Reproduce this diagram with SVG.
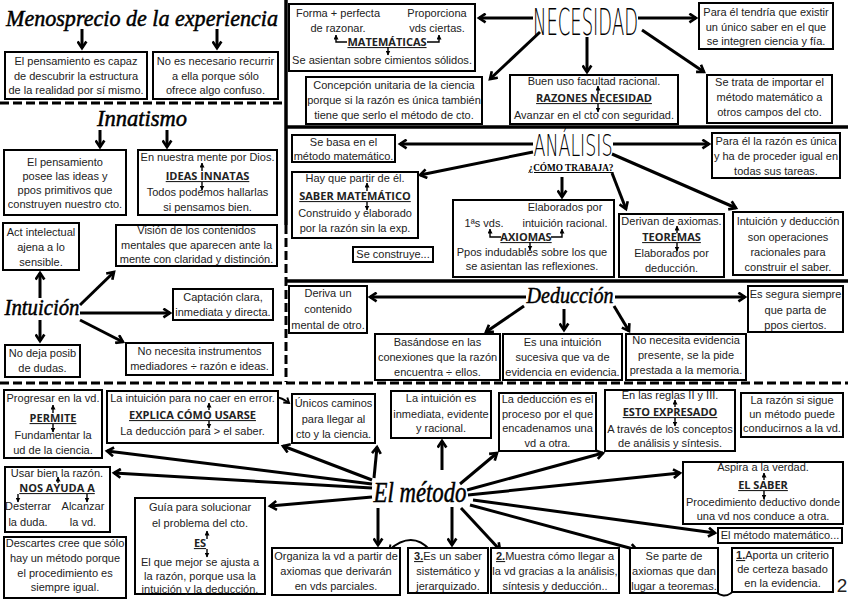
<svg xmlns="http://www.w3.org/2000/svg" width="848" height="600" viewBox="0 0 848 600">
<defs>
<marker id="a" viewBox="0 0 10 10" refX="7.5" refY="5" markerWidth="11" markerHeight="11" markerUnits="userSpaceOnUse" orient="auto"><path d="M1.5,1 L7.5,5 L1.5,9" fill="none" stroke="#000" stroke-width="2.4" stroke-linejoin="miter"/></marker>
<marker id="m" viewBox="0 0 10 10" refX="7.5" refY="5" markerWidth="8" markerHeight="8" markerUnits="userSpaceOnUse" orient="auto"><path d="M1.5,1 L7.5,5 L1.5,9" fill="none" stroke="#000" stroke-width="2.4"/></marker>
<marker id="s" viewBox="0 0 10 10" refX="9" refY="5" markerWidth="5" markerHeight="5" markerUnits="userSpaceOnUse" orient="auto"><path d="M0,0 L10,5 L0,10 z" fill="#000"/></marker>
<style>
.b{fill:#fff;stroke:#000;stroke-width:2}
.t{font-family:"Liberation Sans",Arial,sans-serif;font-size:11px;fill:#222;text-anchor:middle}
.h{font-family:"Open Sans","Liberation Sans",sans-serif;font-weight:bold;font-size:11px;fill:#222;text-anchor:middle;text-decoration:underline}
.sc{font-family:"Liberation Serif",serif;font-style:italic;fill:#000;text-anchor:middle;stroke:#000;stroke-width:0.5}
.th{font-family:"DejaVu Sans","Liberation Sans",sans-serif;font-weight:200;fill:#000;text-anchor:middle}
.c{fill:none;stroke:#000;stroke-width:3;marker-end:url(#a)}
.cc{fill:none;stroke:#000;stroke-width:2;marker-end:url(#m)}
.sm{fill:none;stroke:#000;stroke-width:1.4;marker-end:url(#s)}
.sep{fill:none;stroke:#000;stroke-width:3.5}
.dash{fill:none;stroke:#000;stroke-width:3;stroke-dasharray:9 4}
</style>
</defs>
<rect width="848" height="600" fill="#fff"/>

<g id="separators">
<line class="dash" x1="0" y1="103" x2="285" y2="103"/>
<line class="sep" x1="286" y1="0" x2="286" y2="225"/>
<line class="dash" x1="286" y1="225" x2="286" y2="382"/>
<line class="sep" x1="285" y1="127" x2="848" y2="127"/>
<line class="sep" x1="285" y1="281" x2="848" y2="281"/>
<line class="dash" x1="0" y1="383" x2="848" y2="383"/>
</g>

<g id="connectors">
<line class="c" x1="82" y1="29" x2="82" y2="48"/>
<line class="c" x1="217" y1="29" x2="217" y2="48"/>
<line class="c" x1="533" y1="18" x2="479" y2="18"/>
<line class="c" x1="638" y1="18" x2="696" y2="18"/>
<line class="c" x1="540" y1="32" x2="490" y2="79"/>
<line class="c" x1="587" y1="37" x2="587" y2="72"/>
<line class="c" x1="642" y1="30" x2="704" y2="72"/>
<line class="c" x1="100" y1="130" x2="100" y2="147"/>
<line class="c" x1="167" y1="130" x2="167" y2="147"/>
<line class="c" x1="40" y1="298" x2="40" y2="273"/>
<line class="c" x1="40" y1="320" x2="40" y2="341"/>
<line class="c" x1="80" y1="305" x2="114" y2="272"/>
<line class="c" x1="80" y1="313" x2="170" y2="313"/>
<line class="c" x1="80" y1="320" x2="123" y2="342"/>
<line class="c" x1="533" y1="144" x2="400" y2="144"/>
<line class="c" x1="533" y1="152" x2="420" y2="175"/>
<line class="c" x1="562" y1="177" x2="562" y2="197"/>
<line class="c" x1="613" y1="144" x2="709" y2="144"/>
<line class="c" x1="612" y1="154" x2="736" y2="208"/>
<line class="c" x1="612" y1="173" x2="626" y2="209"/>
<line class="c" x1="526" y1="297" x2="370" y2="297"/>
<line class="c" x1="615" y1="297" x2="745" y2="297"/>
<line class="c" x1="524" y1="306" x2="486" y2="332"/>
<line class="c" x1="564" y1="309" x2="564" y2="330"/>
<line class="c" x1="614" y1="306" x2="629" y2="331"/>
<line class="c" x1="442" y1="470" x2="442" y2="441"/>
<line class="c" x1="460" y1="484" x2="497" y2="453"/>
<line class="c" x1="467" y1="490" x2="603" y2="453"/>
<line class="c" x1="468" y1="495" x2="680" y2="473"/>
<line class="c" x1="374" y1="478" x2="377" y2="447"/>
<line class="c" x1="372" y1="480" x2="283" y2="446"/>
<line class="c" x1="372" y1="484" x2="107" y2="451"/>
<line class="c" x1="372" y1="488" x2="114" y2="473"/>
<line class="c" x1="372" y1="497" x2="270" y2="506"/>
<line class="c" x1="378" y1="508" x2="378" y2="545"/>
<line class="c" x1="452" y1="507" x2="452" y2="545"/>
<line class="c" x1="461" y1="508" x2="500" y2="550"/>
<line class="c" x1="470" y1="505" x2="637" y2="550"/>
<line class="c" x1="473" y1="500" x2="715" y2="533"/>
<path class="cc" d="M262,406 Q273,390 289,403"/>
<path class="cc" d="M430,550 Q412,530 389,550"/>
<path class="cc" d="M736,588 Q724,604 710,586"/>
</g>

<g id="menosprecio">
<text class="sc" x="142" y="26" font-size="23" textLength="272" lengthAdjust="spacingAndGlyphs">Menosprecio de la experiencia</text>
</g>
<g id="n-pensamiento-capaz">
<rect class="b" x="5" y="52" width="142" height="47"/>
<text class="t" x="76" y="65">El pensamiento es capaz</text>
<text class="t" x="76" y="80">de descubrir la estructura</text>
<text class="t" x="76" y="94">de la realidad por sí mismo.</text>
</g>
<g id="n-no-necesario">
<rect class="b" x="153" y="52" width="125" height="47"/>
<text class="t" x="215.5" y="65">No es necesario recurrir</text>
<text class="t" x="215.5" y="80">a ella porque sólo</text>
<text class="t" x="215.5" y="94">ofrece algo confuso.</text>
</g>

<g id="necesidad">
<text class="th" transform="translate(585.5,34.5) scale(0.5,1)" x="0" y="0" font-size="37" textLength="210" lengthAdjust="spacingAndGlyphs">NECESIDAD</text>
</g>
<g id="n-matematicas">
<rect class="b" x="289" y="4" width="186" height="67"/>
<text class="t" x="338" y="17">Forma + perfecta</text>
<text class="t" x="437" y="17">Proporciona</text>
<text class="t" x="338" y="32">de razonar.</text>
<text class="t" x="437" y="32">vds ciertas.</text>
<text class="h" x="387" y="46">MATEMÁTICAS</text>
<text class="t" x="382" y="64" textLength="180" lengthAdjust="spacingAndGlyphs">Se asientan sobre cimientos sólidos.</text>
<path class="sm" d="M347,42 H336 V35"/>
<path class="sm" d="M427,42 H439 V35"/>
<path class="sm" d="M388,47 V55"/>
</g>
<g id="n-concepcion">
<rect class="b" x="306" y="77" width="176" height="47"/>
<text class="t" x="394" y="89">Concepción unitaria de la ciencia</text>
<text class="t" x="394" y="104">porque si la razón es única también</text>
<text class="t" x="394" y="119">tiene que serlo el método de cto.</text>
</g>
<g id="n-razones">
<rect class="b" x="510" y="75" width="168" height="49"/>
<text class="t" x="594" y="85">Buen uso facultad racional.</text>
<text class="h" x="594" y="102">RAZONES NECESIDAD</text>
<text class="t" x="594" y="119">Avanzar en el cto con seguridad.</text>
<path class="sm" d="M598,94 V86"/>
<path class="sm" d="M598,104 V112"/>
</g>
<g id="n-unico-saber">
<rect class="b" x="699" y="3" width="134" height="46"/>
<text class="t" x="766" y="16">Para él tendría que existir</text>
<text class="t" x="766" y="31">un único saber en el que</text>
<text class="t" x="766" y="45">se integren ciencia y fía.</text>
</g>
<g id="n-importar">
<rect class="b" x="707" y="75" width="125" height="48"/>
<text class="t" x="769.5" y="86">Se trata de importar el</text>
<text class="t" x="769.5" y="101">método matemático a</text>
<text class="t" x="769.5" y="116">otros campos del cto.</text>
</g>

<g id="innatismo">
<text class="sc" x="142" y="126" font-size="23" textLength="90" lengthAdjust="spacingAndGlyphs">Innatismo</text>
</g>
<g id="n-pensamiento-posee">
<rect class="b" x="4" y="150" width="122" height="65"/>
<text class="t" x="65" y="166">El pensamiento</text>
<text class="t" x="65" y="180">posee las ideas y</text>
<text class="t" x="65" y="194">ppos primitivos que</text>
<text class="t" x="65" y="208">construyen nuestro cto.</text>
</g>
<g id="n-ideas-innatas">
<rect class="b" x="138" y="150" width="139" height="65"/>
<text class="t" x="207.5" y="161">En nuestra mente por Dios.</text>
<text class="h" x="207.5" y="180">IDEAS INNATAS</text>
<text class="t" x="207.5" y="196">Todos podemos hallarlas</text>
<text class="t" x="207.5" y="211">si pensamos bien.</text>
<path class="sm" d="M202,171 V163"/>
<path class="sm" d="M202,182 V190"/>
</g>

<g id="intuicion">
<text class="sc" x="42" y="315" font-size="23" textLength="75" lengthAdjust="spacingAndGlyphs">Intuición</text>
</g>
<g id="n-act-intelectual">
<rect class="b" x="3" y="223" width="76" height="47"/>
<text class="t" x="41" y="236">Act intelectual</text>
<text class="t" x="41" y="251">ajena a lo</text>
<text class="t" x="41" y="266">sensible.</text>
</g>
<g id="n-vision">
<rect class="b" x="116" y="225" width="161" height="41"/>
<text class="t" x="196.5" y="234">Visión de los contenidos</text>
<text class="t" x="196.5" y="249">mentales que aparecen ante la</text>
<text class="t" x="196.5" y="263">mente con claridad y distinción.</text>
</g>
<g id="n-captacion">
<rect class="b" x="173" y="289" width="100" height="31"/>
<text class="t" x="223" y="301">Captación clara,</text>
<text class="t" x="223" y="316">inmediata y directa.</text>
</g>
<g id="n-no-deja">
<rect class="b" x="5" y="345" width="75" height="32"/>
<text class="t" x="42.5" y="357">No deja posib</text>
<text class="t" x="42.5" y="372">de dudas.</text>
</g>
<g id="n-no-necesita-instr">
<rect class="b" x="126" y="343" width="147" height="32"/>
<text class="t" x="199.5" y="355">No necesita instrumentos</text>
<text class="t" x="199.5" y="370">mediadores ÷ razón e ideas.</text>
</g>

<g id="analisis">
<text class="th" transform="translate(573,156) scale(0.56,1)" x="0" y="0" font-size="30" textLength="141" lengthAdjust="spacingAndGlyphs">ANÁLISIS</text>
<text x="571" y="171" font-family="Liberation Serif,serif" font-weight="bold" font-size="10" text-anchor="middle" text-decoration="underline" textLength="85" lengthAdjust="spacingAndGlyphs">¿CÓMO TRABAJA?</text>
</g>
<g id="n-se-basa">
<rect class="b" x="292" y="135" width="103" height="27"/>
<text class="t" x="343.5" y="146">Se basa en el</text>
<text class="t" x="343.5" y="160">método matemático.</text>
</g>
<g id="n-saber-matematico">
<rect class="b" x="292" y="172" width="126" height="66"/>
<text class="t" x="355" y="182">Hay que partir de él.</text>
<text class="h" x="355" y="200">SABER MATEMÁTICO</text>
<text class="t" x="355" y="217">Construido y elaborado</text>
<text class="t" x="355" y="232">por la razón sin la exp.</text>
<path class="sm" d="M367,191 V183"/>
<path class="sm" d="M367,202 V210"/>
</g>
<g id="n-se-construye">
<rect class="b" x="353" y="247" width="80" height="15"/>
<text class="t" x="393" y="258">Se construye...</text>
</g>
<g id="n-axiomas">
<rect class="b" x="453" y="200" width="161" height="77"/>
<text class="t" x="565" y="211">Elaborados por</text>
<text class="t" x="484" y="227">1ªs vds.</text>
<text class="t" x="565" y="227">intuición racional.</text>
<text class="h" x="526" y="241">AXIOMAS</text>
<text class="t" x="532" y="256">Ppos indudables sobre los que</text>
<text class="t" x="532" y="270">se asientan las reflexiones.</text>
<path class="sm" d="M501,237 H490 V229"/>
<path class="sm" d="M551,237 H562 V229"/>
<path class="sm" d="M530,242 V250"/>
</g>
<g id="n-razon-unica">
<rect class="b" x="712" y="133" width="128" height="45"/>
<text class="t" x="776" y="145">Para él la razón es única</text>
<text class="t" x="776" y="160">y ha de proceder igual en</text>
<text class="t" x="776" y="175">todas sus tareas.</text>
</g>
<g id="n-teoremas">
<rect class="b" x="619" y="214" width="105" height="63"/>
<text class="t" x="671.5" y="225">Derivan de axiomas.</text>
<text class="h" x="671.5" y="241">TEOREMAS</text>
<text class="t" x="671.5" y="257">Elaborados por</text>
<text class="t" x="671.5" y="272">deducción.</text>
<path class="sm" d="M677,233 V226"/>
<path class="sm" d="M677,243 V251"/>
</g>
<g id="n-intuicion-deduccion">
<rect class="b" x="733" y="212" width="110" height="63"/>
<text class="t" x="788" y="225">Intuición y deducción</text>
<text class="t" x="788" y="241">son operaciones</text>
<text class="t" x="788" y="256">racionales para</text>
<text class="t" x="788" y="271">construir el saber.</text>
</g>

<g id="deduccion">
<text class="sc" x="570" y="303" font-size="23" textLength="87" lengthAdjust="spacingAndGlyphs">Deducción</text>
</g>
<g id="n-deriva">
<rect class="b" x="289" y="286" width="78" height="47"/>
<text class="t" x="328" y="297">Deriva un</text>
<text class="t" x="328" y="313">contenido</text>
<text class="t" x="328" y="329">mental de otro.</text>
</g>
<g id="n-es-segura">
<rect class="b" x="748" y="286" width="95" height="46"/>
<text class="t" x="795.5" y="298">Es segura siempre</text>
<text class="t" x="795.5" y="314">que parta de</text>
<text class="t" x="795.5" y="329">ppos ciertos.</text>
</g>
<g id="n-basandose">
<rect class="b" x="375" y="334" width="125" height="46"/>
<text class="t" x="437.5" y="346">Basándose en las</text>
<text class="t" x="437.5" y="361">conexiones que la razón</text>
<text class="t" x="437.5" y="376">encuentra ÷ ellos.</text>
</g>
<g id="n-intuicion-sucesiva">
<rect class="b" x="503" y="334" width="119" height="46"/>
<text class="t" x="562.5" y="346">Es una intuición</text>
<text class="t" x="562.5" y="361">sucesiva que va de</text>
<text class="t" x="562.5" y="376">evidencia en evidencia.</text>
</g>
<g id="n-memoria">
<rect class="b" x="626" y="334" width="120" height="46"/>
<text class="t" x="686" y="344">No necesita evidencia</text>
<text class="t" x="686" y="359">presente, se la pide</text>
<text class="t" x="686" y="374">prestada a la memoria.</text>
</g>

<g id="el-metodo">
<text class="sc" x="420" y="502" font-size="30" textLength="93" lengthAdjust="spacingAndGlyphs">El método</text>
</g>
<g id="n-permite">
<rect class="b" x="4" y="390" width="98" height="68"/>
<text class="t" x="53" y="402">Progresar en la vd.</text>
<text class="h" x="53" y="422">PERMITE</text>
<text class="t" x="53" y="439">Fundamentar la</text>
<text class="t" x="53" y="454">ud de la ciencia.</text>
<path class="sm" d="M53,413 V405"/>
<path class="sm" d="M53,424 V432"/>
</g>
<g id="n-explica">
<rect class="b" x="107" y="391" width="171" height="52"/>
<text class="t" x="192.5" y="402">La intuición para no caer en error.</text>
<text class="h" x="192.5" y="419">EXPLICA CÓMO USARSE</text>
<text class="t" x="192.5" y="435">La deducción para &gt; el saber.</text>
<path class="sm" d="M209,410 V403"/>
<path class="sm" d="M209,421 V428"/>
</g>
<g id="n-unicos">
<rect class="b" x="292" y="394" width="83" height="49"/>
<text class="t" x="333.5" y="407">Únicos caminos</text>
<text class="t" x="333.5" y="423">para llegar al</text>
<text class="t" x="333.5" y="438">cto y la ciencia.</text>
</g>
<g id="n-intuicion-inmediata">
<rect class="b" x="391" y="391" width="100" height="47"/>
<text class="t" x="441" y="402">La intuición es</text>
<text class="t" x="441" y="418">inmediata, evidente</text>
<text class="t" x="441" y="432">y racional.</text>
</g>
<g id="n-deduccion-proceso">
<rect class="b" x="499" y="393" width="97" height="58"/>
<text class="t" x="547.5" y="403">La deducción es el</text>
<text class="t" x="547.5" y="418">proceso por el que</text>
<text class="t" x="547.5" y="432">encadenamos una</text>
<text class="t" x="547.5" y="447">vd a otra.</text>
</g>
<g id="n-esto-expresado">
<rect class="b" x="605" y="390" width="130" height="61"/>
<text class="t" x="670" y="399">En las reglas II y III.</text>
<text class="h" x="670" y="416">ESTO EXPRESADO</text>
<text class="t" x="670" y="433">A través de los conceptos</text>
<text class="t" x="670" y="447">de análisis y síntesis.</text>
<path class="sm" d="M675,407 V400"/>
<path class="sm" d="M675,418 V426"/>
</g>
<g id="n-razon-sigue">
<rect class="b" x="741" y="393" width="102" height="44"/>
<text class="t" x="792" y="404">La razón si sigue</text>
<text class="t" x="792" y="418">un método puede</text>
<text class="t" x="792" y="432">conducirnos a la vd.</text>
</g>
<g id="n-el-saber">
<rect class="b" x="683" y="462" width="160" height="62"/>
<text class="t" x="763" y="471">Aspira a la verdad.</text>
<text class="h" x="763" y="489">EL SABER</text>
<text class="t" x="763" y="506">Procedimiento deductivo donde</text>
<text class="t" x="763" y="520">una vd nos conduce a otra.</text>
<path class="sm" d="M764,480 V473"/>
<path class="sm" d="M764,491 V499"/>
</g>
<g id="n-nos-ayuda">
<rect class="b" x="5" y="467" width="105" height="65"/>
<text class="t" x="57" y="477">Usar bien la razón.</text>
<text class="h" x="57" y="492">NOS AYUDA A</text>
<text class="t" x="28" y="510">Desterrar</text>
<text class="t" x="83" y="510">Alcanzar</text>
<text class="t" x="28" y="526">la duda.</text>
<text class="t" x="83" y="526">la vd.</text>
<path class="sm" d="M58,483 V477"/>
<path class="sm" d="M18,494 V502"/>
<path class="sm" d="M87,494 V502"/>
</g>
<g id="n-descartes">
<rect class="b" x="4" y="537" width="122" height="61"/>
<text class="t" x="65" y="547">Descartes cree que sólo</text>
<text class="t" x="65" y="562">hay un método porque</text>
<text class="t" x="65" y="577">el procedimiento es</text>
<text class="t" x="65" y="591">siempre igual.</text>
</g>
<g id="n-guia">
<rect class="b" x="135" y="498" width="130" height="96"/>
<text class="t" x="200" y="511">Guía para solucionar</text>
<text class="t" x="200" y="527">el problema del cto.</text>
<text class="h" x="200" y="547">ES</text>
<text class="t" x="200" y="566">El que mejor se ajusta a</text>
<text class="t" x="200" y="580">la razón, porque usa la</text>
<text class="t" x="200" y="593">intuición y la deducción.</text>
<path class="sm" d="M207,539 V531"/>
<path class="sm" d="M207,549 V557"/>
</g>
<g id="n-organiza">
<rect class="b" x="272" y="548" width="128" height="47"/>
<text class="t" x="336" y="560">Organiza la vd a partir de</text>
<text class="t" x="336" y="575">axiomas que derivarán</text>
<text class="t" x="336" y="590">en vds parciales.</text>
</g>
<g id="n-saber-sistematico">
<rect class="b" x="408" y="548" width="80" height="45"/>
<text class="t" x="448" y="560"><tspan font-weight="bold" text-decoration="underline">3.</tspan>Es un saber</text>
<text class="t" x="448" y="575">sistemático y</text>
<text class="t" x="448" y="590">jerarquizado.</text>
</g>
<g id="n-muestra">
<rect class="b" x="491" y="548" width="128" height="45"/>
<text class="t" x="555" y="560"><tspan font-weight="bold" text-decoration="underline">2.</tspan>Muestra cómo llegar a</text>
<text class="t" x="555" y="575">la vd gracias a la análisis,</text>
<text class="t" x="555" y="590">síntesis y deducción..</text>
</g>
<g id="n-se-parte">
<rect class="b" x="630" y="548" width="88" height="45"/>
<text class="t" x="674" y="560">Se parte de</text>
<text class="t" x="674" y="575">axiomas que dan</text>
<text class="t" x="674" y="590">lugar a teoremas.</text>
</g>
<g id="n-metodo-matematico">
<rect class="b" x="718" y="528" width="124" height="15"/>
<text class="t" x="780" y="539">El método matemático...</text>
</g>
<g id="n-aporta">
<rect class="b" x="732" y="548" width="101" height="44"/>
<text class="t" x="782.5" y="559"><tspan font-weight="bold" text-decoration="underline">1.</tspan>Aporta un criterio</text>
<text class="t" x="782.5" y="573">de certeza basado</text>
<text class="t" x="782.5" y="587">en la evidencia.</text>
</g>
<text x="842" y="592" font-family="Liberation Sans,sans-serif" font-size="19" text-anchor="middle" fill="#222">2</text>
</svg>
